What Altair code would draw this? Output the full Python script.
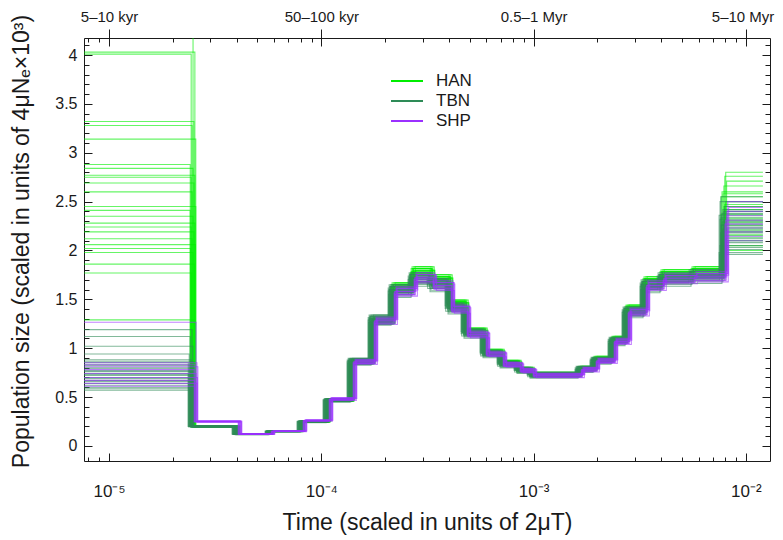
import math
import altair as alt
import pandas as pd

FONT = "Liberation Sans"
INK = "#1a1a1a"

# ---- axis ranges / ticks ----
X_MIN, X_MAX = 7.62e-6, 1.2994e-2
Y_MIN, Y_MAX = -0.155, 4.175
DECADES = [1e-5, 1e-4, 1e-3, 1e-2]
BOTTOM_LABELS = ["10⁻⁵", "10⁻⁴", "10⁻³", "10⁻²"]
TOP_LABELS = ["5–10 kyr", "50–100 kyr", "0.5–1 Myr", "5–10 Myr"]
MINOR_X = [8e-6, 9e-6,
           2e-5, 3e-5, 4e-5, 5e-5, 6e-5, 7e-5, 8e-5, 9e-5,
           2e-4, 3e-4, 4e-4, 5e-4, 6e-4, 7e-4, 8e-4, 9e-4,
           2e-3, 3e-3, 4e-3, 5e-3, 6e-3, 7e-3, 8e-3, 9e-3]
MAJOR_Y = [0, 0.5, 1, 1.5, 2, 2.5, 3, 3.5, 4]
MINOR_Y = [round(i * 0.1, 1) for i in range(0, 42)]

# ---- PSMC step curves ----
T_START = 5e-6
T_END = 1.2035e-2
BREAKS = [2.487e-5, 4.008e-5, 5.734e-5, 8.11e-5, 1.0754e-4, 1.395e-4, 1.751e-4,
          2.176e-4, 2.703e-4, 3.321e-4, 4.038e-4, 4.803e-4, 5.903e-4, 7.10e-4,
          8.53e-4, 9.83e-4, 1.654e-3, 1.946e-3, 2.366e-3, 2.754e-3, 3.347e-3,
          4.024e-3, 5.634e-3, 7.88e-3]

HAN_MID = [0.20, 0.12, 0.15, 0.25, 0.47, 0.86, 1.28, 1.62, 1.78, 1.70, 1.45, 1.17,
           0.96, 0.85, 0.78, 0.73, 0.79, 0.89, 1.09, 1.40, 1.68, 1.75, 1.78]
TBN_MID = [0.20, 0.12, 0.15, 0.25, 0.47, 0.87, 1.30, 1.60, 1.72, 1.66, 1.42, 1.16,
           0.95, 0.84, 0.78, 0.73, 0.79, 0.88, 1.08, 1.38, 1.65, 1.72, 1.75]
SHP_MID = [0.25, 0.12, 0.15, 0.26, 0.48, 0.86, 1.28, 1.58, 1.72, 1.64, 1.40, 1.14,
           0.94, 0.83, 0.77, 0.72, 0.78, 0.87, 1.07, 1.37, 1.64, 1.71, 1.73]
POP_TMUL = {"HAN": 1.0, "TBN": 0.989, "SHP": 1.033}

HAN_FIRST = [6.0, 4.03, 4.01, 3.32, 3.28, 3.14, 2.88, 2.84, 2.77, 2.75, 2.69, 2.60, 2.45,
             2.41, 2.35, 2.28, 2.24, 2.19, 2.12, 2.06, 2.02, 1.98, 1.86, 1.77, 1.29]
HAN_LAST = [2.45, 2.80, 2.29, 2.76, 2.19, 2.71, 2.37, 2.66, 2.10, 2.60, 2.42, 2.58, 2.23,
            2.55, 2.00, 2.50, 2.33, 2.47, 2.16, 2.40, 2.26, 2.31, 2.13, 2.21, 2.05]
HAN_TMUL = [1.00, 1.02, 0.98, 1.01, 0.99, 1.03, 0.97, 1.00, 1.02, 0.98, 1.01, 0.99, 1.03,
            0.97, 1.00, 1.02, 0.98, 1.01, 0.99, 1.025, 0.975, 1.00, 1.015, 0.985, 1.01]
HAN_YMUL = [1.00, 0.98, 1.02, 0.97, 1.03, 1.01, 0.99, 1.02, 0.98, 1.00, 1.03, 0.97, 1.01,
            0.99, 1.02, 0.98, 1.00, 1.01, 0.99, 1.03, 0.97, 1.02, 0.98, 1.00, 1.01]

TBN_FIRST = [1.19, 1.12, 1.02, 0.94, 0.88, 0.86, 0.85, 0.83, 0.82, 0.80, 0.79, 0.77, 0.76,
             0.74, 0.73, 0.72, 0.70, 0.69, 0.67, 0.66, 0.64, 0.62, 0.60, 0.59, 0.57]
TBN_LAST = [2.30, 2.55, 2.10, 2.50, 2.20, 2.45, 1.98, 2.42, 2.26, 2.40, 2.05, 2.38, 2.15,
            2.36, 2.01, 2.34, 2.24, 2.32, 2.08, 2.28, 1.96, 2.22, 2.12, 2.18, 2.03]
TBN_TMUL = [1.00, 0.98, 1.01, 0.97, 0.99, 1.02, 0.96, 1.00, 0.98, 1.01, 0.97, 0.99, 1.02,
            0.96, 1.00, 0.98, 1.01, 0.97, 0.99, 1.015, 0.965, 1.00, 0.985, 0.975, 1.01]
TBN_YMUL = [1.00, 1.02, 0.98, 1.03, 0.97, 1.01, 0.99, 0.96, 1.02, 0.98, 1.00, 1.03, 0.97,
            1.01, 0.99, 1.02, 0.98, 1.00, 0.95, 1.03, 0.97, 1.02, 0.98, 1.00, 0.99]

SHP_FIRST = [1.265, 0.85, 0.83, 0.81, 0.78, 0.74, 0.70, 0.67, 0.64, 0.61]
SHP_LAST = [2.36, 2.50, 2.19, 2.44, 2.27, 2.40, 2.10, 2.31, 2.23, 2.14]
SHP_TMUL = [1.00, 1.01, 0.99, 1.02, 0.98, 1.00, 1.015, 0.985, 1.01, 0.99]
SHP_YMUL = [1.00, 1.02, 0.98, 1.01, 0.99, 1.03, 0.97, 1.00, 1.02, 0.98]

POPS = ["HAN", "TBN", "SHP"]
COLORS = ["#00ee00", "#2e8b57", "#9b30ff"]


def pop_frame(name, mid, first, last, tmul, ymul):
    rows = []
    pm = POP_TMUL[name]
    for i in range(len(first)):
        rid = f"{name}{i}"
        rows.append((name, rid, T_START, first[i], 0))
        for k, (b, v) in enumerate(zip(BREAKS[:-1], mid)):
            rows.append((name, rid, b * pm * tmul[i], v * ymul[i], k + 1))
        rows.append((name, rid, BREAKS[-1] * pm * tmul[i], last[i], len(mid) + 1))
        rows.append((name, rid, T_END, last[i], len(mid) + 2))
    return pd.DataFrame(rows, columns=["pop", "rep", "t", "v", "o"])


frames = {
    "HAN": pop_frame("HAN", HAN_MID, HAN_FIRST, HAN_LAST, HAN_TMUL, HAN_YMUL),
    "TBN": pop_frame("TBN", TBN_MID, TBN_FIRST, TBN_LAST, TBN_TMUL, TBN_YMUL),
    "SHP": pop_frame("SHP", SHP_MID, SHP_FIRST, SHP_LAST, SHP_TMUL, SHP_YMUL),
}

xscale = alt.Scale(type="log", domain=[X_MIN, X_MAX], nice=False)
yscale = alt.Scale(domain=[Y_MIN, Y_MAX], nice=False, zero=False)
cscale = alt.Scale(domain=POPS, range=COLORS)


def label_expr(labels):
    parts = []
    for v, lab in zip(DECADES, labels):
        e = round(math.log10(v))
        parts.append(f"abs(log(datum.value)/log(10) - ({e})) < 0.01 ? '{lab}' : ")
    return "".join(parts) + "''"


legend = alt.Legend(orient="none", legendX=314, legendY=34, title=None,
                    symbolType="M-2,0H2", symbolSize=256, symbolStrokeWidth=2,
                    symbolOpacity=1, labelFontSize=17, labelFont=FONT,
                    labelColor=INK, labelOffset=20, rowPadding=3)

ax_bottom = alt.Axis(orient="bottom", values=DECADES, labelExpr=label_expr(BOTTOM_LABELS),
                     ticks=False, domain=True, domainColor=INK, domainWidth=1,
                     labelFontSize=17, labelFont=FONT, labelColor=INK, labelPadding=22,
                     labelFlush=False, labelOverlap=False,
                     title="Time (scaled in units of 2μT)", titleFontSize=23,
                     titleFont=FONT, titleFontWeight="normal", titleColor=INK,
                     titleY=61, titleBaseline="middle", grid=False)
ax_left = alt.Axis(orient="left", values=MAJOR_Y, format="~g", ticks=False, domain=True,
                   domainColor=INK, domainWidth=1, labelFontSize=16, labelFont=FONT,
                   labelColor=INK, labelPadding=7, labelFlush=False, labelOverlap=False,
                   title="Population size (scaled in units of 4μNₑ×10³)",
                   titleFontSize=23, titleFont=FONT, titleFontWeight="normal",
                   titleColor=INK, titleX=-63, titleY=203, titleBaseline="middle",
                   grid=False)


def tick_axis(orient, values, size, offset):
    return alt.Axis(orient=orient, values=values, ticks=True, tickSize=size,
                    offset=offset, domain=False, labels=False, grid=False,
                    title=None, tickColor=INK, tickWidth=1)


layers = []
for idx, p in enumerate(POPS):
    layers.append(
        alt.Chart(frames[p]).mark_line(interpolate="step-after", strokeWidth=1.1,
                                       opacity=0.6, clip=True).encode(
            x=alt.X("t:Q", scale=xscale, axis=ax_bottom if idx == 0 else None),
            y=alt.Y("v:Q", scale=yscale, axis=ax_left if idx == 0 else None),
            color=alt.Color("pop:N", scale=cscale, legend=legend),
            detail="rep:N",
            order="o:Q",
        )
    )

anchor = pd.DataFrame({"t": [1e-4], "v": [1.0]})
LAST_TEST = "datum.value > 0.005"
ax_top = alt.Axis(orient="top", values=DECADES, labelExpr=label_expr(TOP_LABELS),
                  ticks=True, tickSize=9, tickColor=INK, domain=True, domainColor=INK,
                  domainWidth=1, labelFontSize=15, labelFont=FONT, labelColor=INK,
                  labelPadding=5, labelFlush=False, labelOverlap=False, title=None,
                  labelAlign={"condition": {"test": LAST_TEST, "value": "right"},
                              "value": "center"},
                  labelOffset={"condition": {"test": LAST_TEST, "value": 28},
                               "value": 0},
                  grid=False)
ax_right = alt.Axis(orient="right", values=MAJOR_Y, ticks=False, domain=True,
                    domainColor=INK, domainWidth=1, labels=False, title=None, grid=False)

axis_specs = [
    (tick_axis("bottom", DECADES, 8, -8), tick_axis("left", MAJOR_Y, 8, -8)),
    (tick_axis("bottom", MINOR_X, 4, -4), tick_axis("left", MINOR_Y, 5, -5)),
    (ax_top, ax_right),
    (tick_axis("top", DECADES, 8, -8), tick_axis("right", MAJOR_Y, 8, -8)),
    (tick_axis("top", MINOR_X, 4, -4), tick_axis("right", MINOR_Y, 5, -5)),
]
for xa, ya in axis_specs:
    layers.append(
        alt.Chart(anchor).mark_point(opacity=0).encode(
            x=alt.X("t:Q", scale=xscale, axis=xa),
            y=alt.Y("v:Q", scale=yscale, axis=ya),
        )
    )

chart = alt.layer(*layers).resolve_axis(x="independent", y="independent").properties(
    width=686, height=423,
    autosize=alt.AutoSizeParams(type="none"),
    padding={"left": 76, "top": 30, "right": 5, "bottom": 78},
).configure_view(stroke=None).configure(background="white")

chart.save("out.html", embed_options={"renderer": "svg", "actions": False})
